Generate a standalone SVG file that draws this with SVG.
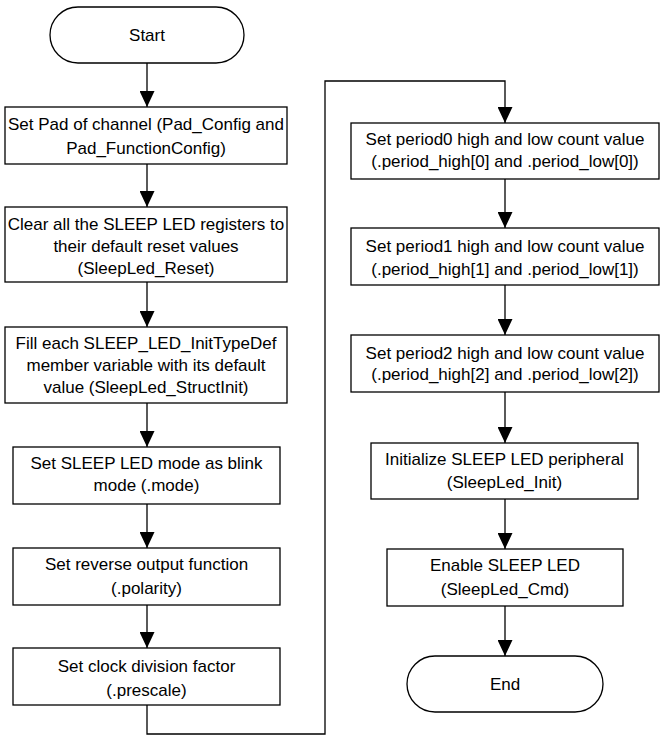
<svg xmlns="http://www.w3.org/2000/svg" width="671" height="741" viewBox="0 0 671 741">
<style>
.n{fill:#fff;stroke:#000;stroke-width:1.3}
.t{font-family:"Liberation Sans",Arial,sans-serif;font-size:17px;fill:#000;text-anchor:middle}
.c{fill:none;stroke:#000;stroke-width:1.3;marker-end:url(#ah)}
</style>
<defs>
<marker id="ah" markerUnits="userSpaceOnUse" markerWidth="16" markerHeight="15" refX="16" refY="7.5" orient="auto">
<path d="M0,0 L16,7.5 L0,15 z" fill="#000"/>
</marker>
</defs>
<rect width="671" height="741" fill="#fff"/>
<g id="connectors">
<path class="c" d="M147,63 V107"/>
<path class="c" d="M147,164 V207"/>
<path class="c" d="M147,282 V327"/>
<path class="c" d="M147,403 V447"/>
<path class="c" d="M147,504 V548"/>
<path class="c" d="M147,605 V648"/>
<path class="c" d="M147,705 V734 H325 V81 H505 V123"/>
<path class="c" d="M505,179 V228"/>
<path class="c" d="M505,285 V335"/>
<path class="c" d="M505,392 V443"/>
<path class="c" d="M505,499 V549"/>
<path class="c" d="M505,606 V656"/>
</g>
<g id="start"><rect class="n" x="50" y="7" width="194" height="56" rx="28"/><text class="t" x="147" y="41">Start</text></g>
<g id="b1"><rect class="n" x="5" y="107" width="282" height="57"/><text class="t" x="146" y="130">Set Pad of channel (Pad_Config and</text><text class="t" x="146" y="154">Pad_FunctionConfig)</text></g>
<g id="b2"><rect class="n" x="5" y="207" width="282" height="75"/><text class="t" x="146" y="230">Clear all the SLEEP LED registers to</text><text class="t" x="146" y="252">their default reset values</text><text class="t" x="146" y="274">(SleepLed_Reset)</text></g>
<g id="b3"><rect class="n" x="5" y="327" width="282" height="76"/><text class="t" x="146" y="349">Fill each SLEEP_LED_InitTypeDef</text><text class="t" x="146" y="371">member variable with its default</text><text class="t" x="146" y="393">value (SleepLed_StructInit)</text></g>
<g id="b4"><rect class="n" x="13" y="447" width="267" height="57"/><text class="t" x="146.5" y="469">Set SLEEP LED mode as blink</text><text class="t" x="146.5" y="491">mode (.mode)</text></g>
<g id="b5"><rect class="n" x="13" y="548" width="267" height="57"/><text class="t" x="146.5" y="570">Set reverse output function</text><text class="t" x="146.5" y="594">(.polarity)</text></g>
<g id="b6"><rect class="n" x="13" y="648" width="267" height="57"/><text class="t" x="146.5" y="672">Set clock division factor</text><text class="t" x="146.5" y="696">(.prescale)</text></g>
<g id="b7"><rect class="n" x="351" y="123" width="308" height="56"/><text class="t" x="505" y="145">Set period0 high and low count value</text><text class="t" x="505" y="167">(.period_high[0] and .period_low[0])</text></g>
<g id="b8"><rect class="n" x="351" y="228" width="308" height="57"/><text class="t" x="505" y="252">Set period1 high and low count value</text><text class="t" x="505" y="275">(.period_high[1] and .period_low[1])</text></g>
<g id="b9"><rect class="n" x="351" y="335" width="308" height="57"/><text class="t" x="505" y="359">Set period2 high and low count value</text><text class="t" x="505" y="380">(.period_high[2] and .period_low[2])</text></g>
<g id="b10"><rect class="n" x="371" y="443" width="267" height="56"/><text class="t" x="504.5" y="465">Initialize SLEEP LED peripheral</text><text class="t" x="504.5" y="488">(SleepLed_Init)</text></g>
<g id="b11"><rect class="n" x="387" y="549" width="236" height="57"/><text class="t" x="505" y="571">Enable SLEEP LED</text><text class="t" x="505" y="595">(SleepLed_Cmd)</text></g>
<g id="end"><rect class="n" x="407" y="656" width="196" height="56" rx="28"/><text class="t" x="505" y="690">End</text></g>
</svg>
